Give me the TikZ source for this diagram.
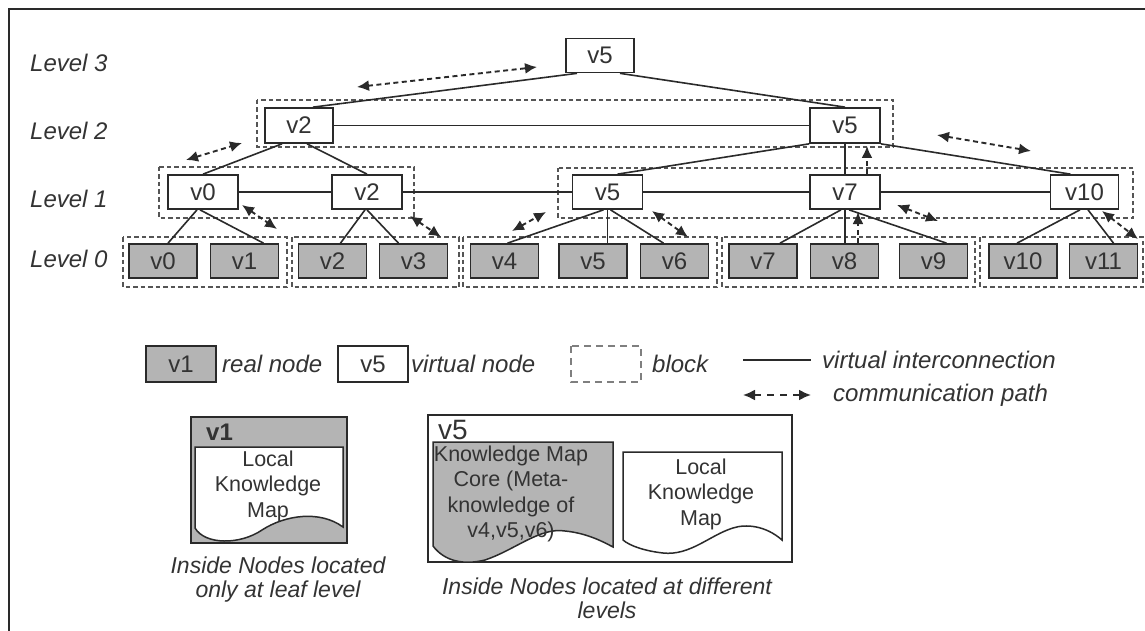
\documentclass[tikz,border=0pt]{standalone}
\usepackage{fontspec}
\setmainfont{Liberation Sans}
\usetikzlibrary{arrows.meta,calc}
\definecolor{realgray}{HTML}{B4B4B4}
\definecolor{ink}{HTML}{2A2A2A}
\definecolor{txt}{HTML}{333333}
\begin{document}
\begin{tikzpicture}[x=1pt,y=-1pt,
  box/.style={draw=ink, line width=1.7pt, minimum width=68pt, minimum height=34pt, inner sep=0pt, font=\fontsize{24}{28}\selectfont, text=txt},
  vnode/.style={box, fill=white},
  rnode/.style={box, fill=realgray},
  blockbox/.style={draw=ink!80, line width=2pt, dash pattern=on 4.5pt off 3pt},
  link/.style={draw=ink, line width=1.6pt},
  comm/.style={draw=ink, line width=1.9pt, dash pattern=on 5pt off 3.5pt, {Latex[length=12pt,width=11pt]}-{Latex[length=12pt,width=11pt]}},
  commone/.style={draw=ink, line width=1.9pt, dash pattern=on 5pt off 3.5pt, -{Latex[length=12pt,width=11pt]}},
  lvl/.style={font=\fontsize{24}{28}\selectfont\itshape, text=txt, anchor=west, inner sep=0pt},
  legtext/.style={font=\fontsize{24}{28}\selectfont\itshape, text=txt, anchor=west, inner sep=0pt},
  doctext/.style={font=\fontsize{21.5}{25.5}\selectfont, text=txt, align=center, inner sep=0pt},
  captext/.style={font=\fontsize{23}{24}\selectfont\itshape, text=txt, align=center, inner sep=0pt},
]
\useasboundingbox (0,0) rectangle (1145,631);
% frame
\draw[ink, line width=2.5pt] (9,631) -- (9,9) -- (1145,9);

% blocks
\draw[blockbox] (257,100) rectangle (893,147);
\draw[blockbox] (159,167) rectangle (414,218);
\draw[blockbox] (558,168) rectangle (1133,218);
\draw[blockbox] (123,237) rectangle (287,287);
\draw[blockbox] (292,237) rectangle (459,287);
\draw[blockbox] (463,237) rectangle (717,287);
\draw[blockbox] (722,237) rectangle (975,287);
\draw[blockbox] (980,237) rectangle (1143,287);

% level labels
\node[lvl] (lab3) at (30,63) {Level 3};
\node[lvl] (lab2) at (30,131) {Level 2};
\node[lvl] (lab1) at (30,199) {Level 1};
\node[lvl] (lab0) at (30,259) {Level 0};

% nodes
\node[vnode] (l3) at (600,55.5) {v5};
\node[vnode, minimum height=35pt] (l2a) at (299,125.5) {v2};
\node[vnode, minimum width=70pt, minimum height=35pt] (l2b) at (845,125.5) {v5};

\node[vnode, minimum width=70pt] (l1a) at (203,192) {v0};
\node[vnode, minimum width=70pt] (l1b) at (367,192) {v2};
\node[vnode, minimum width=70pt] (l1c) at (607.5,192) {v5};
\node[vnode, minimum width=70pt] (l1d) at (845,192) {v7};
\node[vnode, minimum width=68pt] (l1e) at (1084.5,192) {v10};

\node[rnode] (l0a) at (163,261) {v0};
\node[rnode] (l0b) at (244.5,261) {v1};
\node[rnode] (l0c) at (332.5,261) {v2};
\node[rnode] (l0d) at (413.5,261) {v3};
\node[rnode] (l0e) at (504.5,261) {v4};
\node[rnode] (l0f) at (593,261) {v5};
\node[rnode] (l0g) at (674.5,261) {v6};
\node[rnode] (l0h) at (763,261) {v7};
\node[rnode] (l0i) at (844.5,261) {v8};
\node[rnode] (l0j) at (933.5,261) {v9};
\node[rnode] (l0k) at (1023,261) {v10};
\node[rnode] (l0l) at (1103.5,261) {v11};

% virtual interconnections
\draw[link] ($(l3.south)+(-23,0)$) -- ($(l2a.north)+(14,0)$);
\draw[link] ($(l3.south)+(20,0)$) -- (l2b.north);
\draw[link] (l2a.east) -- (l2b.west);
\draw[link] ($(l2a.south)+(-17,0)$) -- (l1a.north);
\draw[link] ($(l2a.south)+(8,0)$) -- (l1b.north);
\draw[link] (l2b.south west) -- ($(l1c.north)+(10,0)$);
\draw[link] (l2b.south) -- (l1d.north);
\draw[link] (l2b.south east) -- ($(l1e.north)+(-14,0)$);
\draw[link] (l1a.east) -- (l1b.west);
\draw[link] (l1b.east) -- (l1c.west);
\draw[link] (l1c.east) -- (l1d.west);
\draw[link] (l1d.east) -- (l1e.west);
\draw[link] ($(l1a.south)+(-6,0)$) -- ($(l0a.north)+(5,0)$);
\draw[link] ($(l1a.south)+(-3,0)$) -- ($(l0b.north)+(19,0)$);
\draw[link] ($(l1b.south)+(-2,0)$) -- ($(l0c.north)+(8,0)$);
\draw[link] ($(l1b.south)+(0,0)$) -- ($(l0d.north)+(-15,0)$);
\draw[link] ($(l1c.south)+(-4,0)$) -- ($(l0e.north)+(3,0)$);
\draw[link] (l1c.south) -- ($(l0f.north)+(14.5,0)$);
\draw[link] ($(l1c.south)+(3,0)$) -- ($(l0g.north)+(-11,0)$);
\draw[link] ($(l1d.south)+(-4,0)$) -- ($(l0h.north)+(17,0)$);
\draw[link] (l1d.south) -- ($(l0i.north)+(0.5,0)$);
\draw[link] ($(l1d.south)+(4,0)$) -- ($(l0j.north)+(13,0)$);
\draw[link] ($(l1e.south)+(-4.5,0)$) -- ($(l0k.north)+(-6,0)$);
\draw[link] ($(l1e.south)+(3.5,0)$) -- ($(l0l.north)+(10,0)$);

% communication paths
\coordinate (a1s) at (357,87);   \coordinate (a1e) at (537,67);
\coordinate (a2s) at (186,160);  \coordinate (a2e) at (242,143);
\coordinate (a3s) at (242,205);  \coordinate (a3e) at (277,229);
\coordinate (a4s) at (410,216);  \coordinate (a4e) at (441,237);
\coordinate (a5s) at (512,231);  \coordinate (a5e) at (546,212);
\coordinate (a6s) at (652,211);  \coordinate (a6e) at (688,237);
\coordinate (a7e) at (867,146);
\coordinate (a8e) at (858,212);
\coordinate (a9s) at (897,205);  \coordinate (a9e) at (938,221);
\coordinate (a10s) at (937,135); \coordinate (a10e) at (1031,151);
\coordinate (a11s) at (1102,211); \coordinate (a11e) at (1138,239);
\draw[comm] (a1s) -- (a1e);
\draw[comm] (a2s) -- (a2e);
\draw[comm] (a3s) -- (a3e);
\draw[comm] (a4s) -- (a4e);
\draw[comm] (a5s) -- (a5e);
\draw[comm] (a6s) -- (a6e);
\draw[commone] ($(l1d.north)+(22,0)$) -- (a7e);
\draw[commone] ($(l0i.north)+(13.5,0)$) -- (a8e);
\draw[comm] (a9s) -- (a9e);
\draw[comm] (a10s) -- (a10e);
\draw[comm] (a11s) -- (a11e);

% legend
\node[rnode, minimum width=70pt, minimum height=36pt] (legr) at (181,364) {v1};
\node[legtext] (legrt) at (222,364) {real node};
\node[vnode, minimum width=70pt, minimum height=36pt] (legv) at (373,364) {v5};
\node[legtext] (legvt) at (411,364) {virtual node};
\draw[blockbox, draw=ink!60, dash pattern=on 7pt off 5pt] (571,346) rectangle (641,382);
\node[legtext] (legbt) at (652,364) {block};
\coordinate (li1) at (743,360); \coordinate (li2) at (811,360);
\draw[link] (li1) -- (li2);
\node[legtext] (leglt) at (822,360) {virtual interconnection};
\coordinate (ca1) at (743,395); \coordinate (ca2) at (811,395);
\draw[comm, dash pattern=on 7pt off 6pt] (ca1) -- (ca2);
\node[legtext] (legct) at (833,395) {communication path};

% inside node (leaf)
\draw[ink, line width=1.7pt, fill=realgray] (191,417) rectangle (347,543);
\node[font=\bfseries\fontsize{24}{28}\selectfont, text=txt, anchor=west, inner sep=0pt] (in1) at (206,432) {v1};
\draw[ink, line width=1.5pt, fill=white] (195,447) -- (343,447) -- (343,527)
  .. controls (320,510) and (285,515) .. (262,530)
  .. controls (240,545) and (205,545) .. (195,528) -- cycle;
\node[doctext] (lkm1) at (268,486) {Local\\Knowledge\\Map};
\node[captext] (cap1) at (278,580) {Inside Nodes located\\only at leaf level};

% inside node (different levels)
\draw[ink, line width=1.7pt, fill=white] (428,415) rectangle (792,562);
\node[font=\fontsize{28}{32}\selectfont, text=txt, anchor=west, inner sep=0pt] (in2) at (438,430) {v5};
\draw[ink, line width=1.5pt, fill=realgray] (433,442) -- (613,442) -- (613,547)
  .. controls (600,540) and (585,533) .. (565,531)
  .. controls (540,527) and (515,550) .. (485,560)
  .. controls (465,565) and (445,562) .. (433,546) -- cycle;
\node[doctext] (kmc) at (511,494) {Knowledge Map\\Core (Meta-\\knowledge of\\v4,v5,v6)};
\draw[ink, line width=1.5pt, fill=white] (623,452) -- (782,452) -- (782,540)
  .. controls (765,525) and (745,524) .. (733,528)
  .. controls (710,535) and (690,556) .. (663,553)
  .. controls (645,551) and (630,546) .. (623,540) -- cycle;
\node[doctext] (lkm2) at (701,494) {Local\\Knowledge\\Map};
\node[captext] (cap2) at (607,598) {Inside Nodes located at different\\levels};
\end{tikzpicture}
\end{document}
